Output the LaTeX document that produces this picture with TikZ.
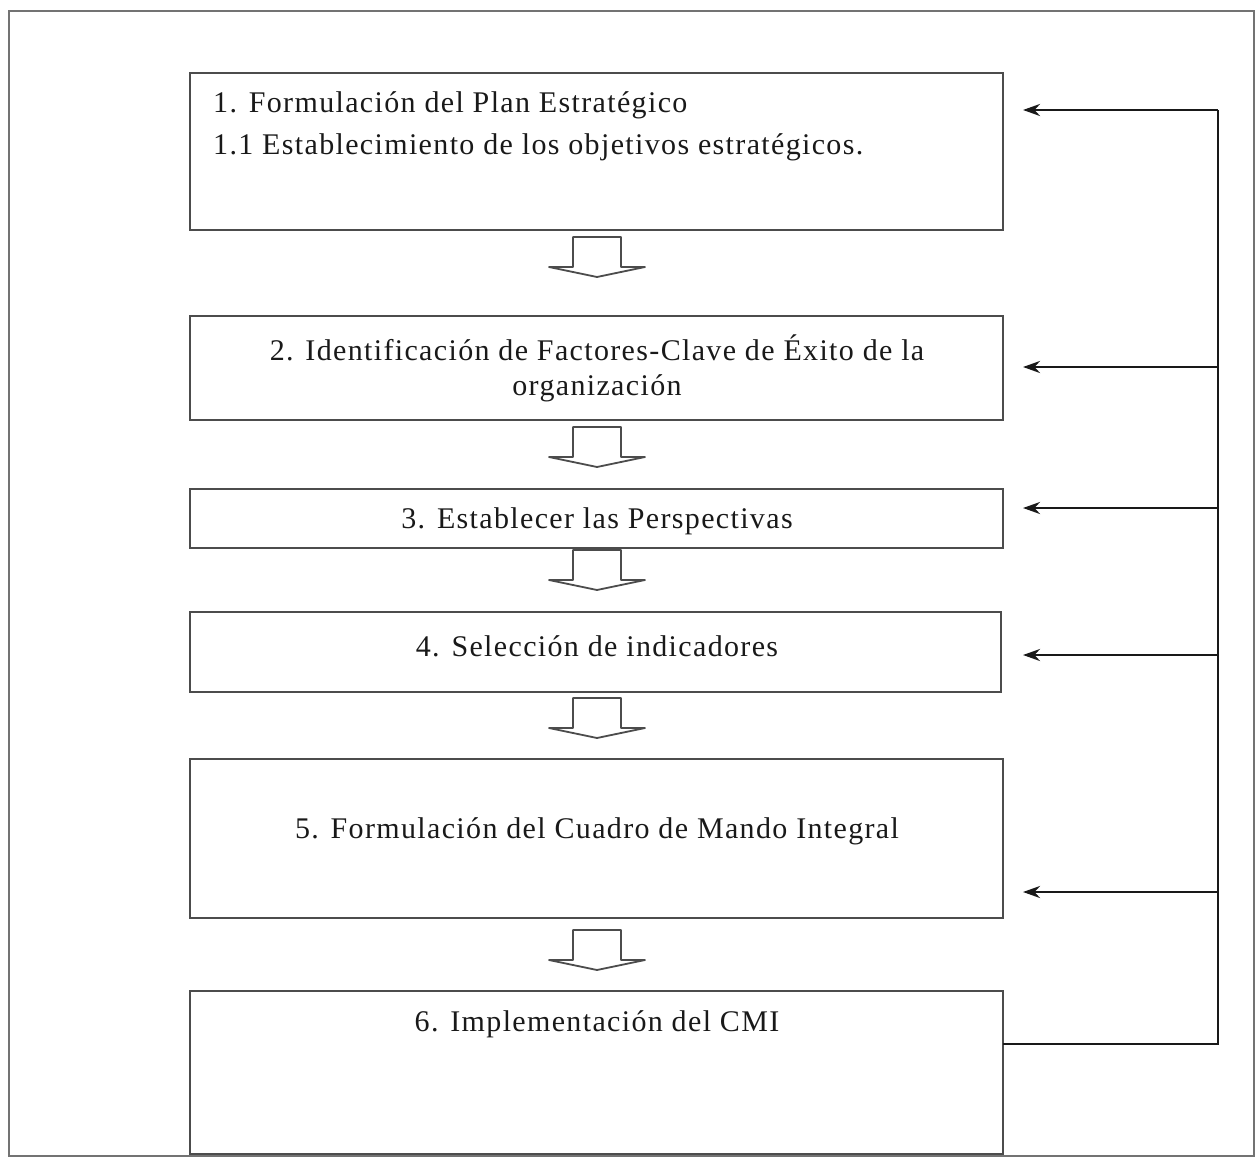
\documentclass[tikz,border=0pt]{standalone}
\usepackage{fontspec}
\setmainfont{Liberation Serif}[LetterSpace=4.5]
\usetikzlibrary{arrows.meta}
\begin{document}
\begin{tikzpicture}[x=1pt,y=-1pt,
  stepbox/.style={draw=black!70,line width=2pt},
  lbl/.style={font=\fontsize{30}{36}\selectfont,text=black!90,inner sep=0pt},
  conn/.style={draw=black!90,line width=2.6pt},
  fb/.style={conn,-{Stealth[length=17pt,width=12pt]}},
  blockarrow/.style={draw=black!70,line width=1.8pt,fill=white,line join=round}]
\useasboundingbox (0,0) rectangle (1257,1158);
\draw[black!55,line width=2pt] (9,11) rectangle (1254,1156);
% boxes
\path[stepbox] (190,73) rectangle (1003,230);
\path[stepbox] (190,316) rectangle (1003,420);
\path[stepbox] (190,489) rectangle (1003,548);
\path[stepbox] (190,612) rectangle (1001,692);
\path[stepbox] (190,759) rectangle (1003,918);
\path[stepbox] (190,991) rectangle (1003,1154);
\coordinate (b6) at (1003,1044);
% texts
\node[lbl,anchor=west] (t1a) at (213,105) {1. Formulación del Plan Estratégico};
\node[lbl,anchor=west] (t1b) at (213,147) {1.1 Establecimiento de los objetivos estratégicos.};
\node[lbl] (t2a) at (597,348) {2. Identificación de Factores-Clave de Éxito de la};
\node[lbl] (t2b) at (597,388) {organización};
\node[lbl] (t3) at (597,521) {3. Establecer las Perspectivas};
\node[lbl] (t4) at (597,646) {4. Selección de indicadores};
\node[lbl] (t5) at (597,831) {5. Formulación del Cuadro de Mando Integral};
\node[lbl] (t6) at (597,1024) {6. Implementación del CMI};
% block arrows
\foreach \t in {237,427,550,698,930}{
  \draw[blockarrow] (573,\t) -- (621,\t) -- (621,\t+30) -- (645,\t+30) -- (597,\t+40) -- (549,\t+30) -- (573,\t+30) -- cycle;
}
% feedback
\coordinate (r6) at (1218,1044);
\coordinate (rtop) at (1218,110);
\draw[conn] (b6) -- (r6) -- (rtop);
\coordinate (r1) at (1218,110);
\coordinate (r2) at (1218,367);
\coordinate (r3) at (1218,508);
\coordinate (r4) at (1218,655);
\coordinate (r5) at (1218,892);
\coordinate (a1) at (1023,110);
\coordinate (a2) at (1023,367);
\coordinate (a3) at (1023,508);
\coordinate (a4) at (1023,655);
\coordinate (a5) at (1023,892);
\foreach \i in {1,...,5}{\draw[fb] (r\i) -- (a\i);}
\end{tikzpicture}
\end{document}
